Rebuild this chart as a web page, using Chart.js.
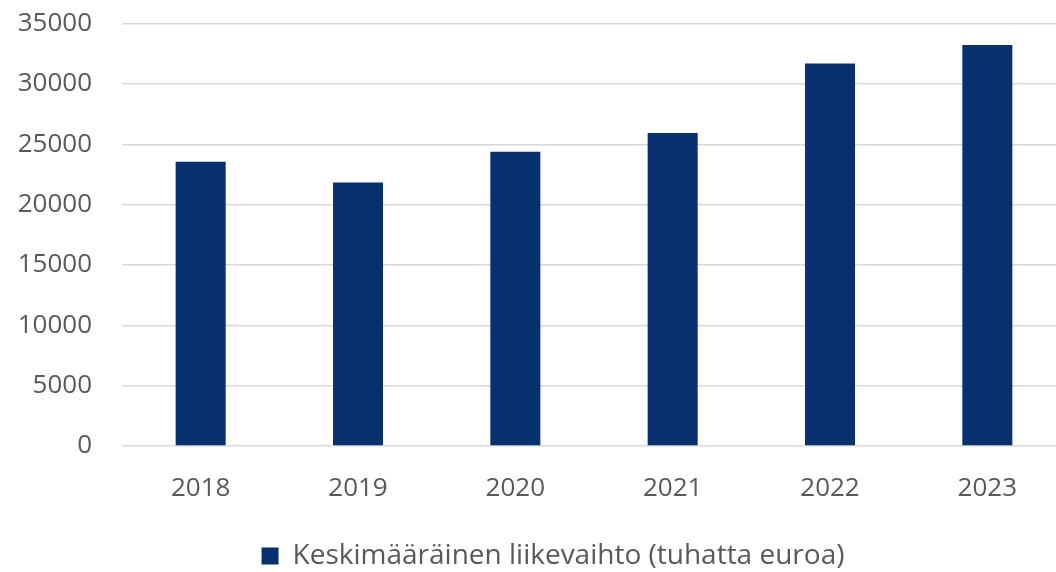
<!DOCTYPE html>
<html>
<head>
<meta charset="utf-8">
<script src="https://cdn.jsdelivr.net/npm/chart.js@4"></script>
<style>
  html, body { margin: 0; padding: 0; background: #fff; overflow: hidden; }
  #wrap { width: 1066px; height: 572px; position: relative; }
</style>
</head>
<body>
<div id="wrap"><canvas id="c"></canvas></div>
<script>
const categories = ["2018", "2019", "2020", "2021", "2022", "2023"];
const seriesName = "Keskimääräinen liikevaihto (tuhatta euroa)";
const values = [23550, 21830, 24380, 25930, 31700, 33230];
const yMin = 0, yMax = 35000, yStep = 5000;

const textColor = "#595959";
const fontFamily = "'Open Sans', 'Liberation Sans', sans-serif";

const legendShift = {
  id: "legendShift",
  afterLayout(chart) {
    if (chart.legend) { chart.legend.left += 20; chart.legend.right += 20; }
  }
};

new Chart(document.getElementById("c"), {
  type: "bar",
  data: {
    labels: categories,
    datasets: [{
      label: seriesName,
      data: values,
      backgroundColor: "#06316E",
      borderWidth: 0,
      categoryPercentage: 1,
      barPercentage: 0.318
    }]
  },
  plugins: [legendShift],
  options: {
    responsive: true,
    maintainAspectRatio: false,
    animation: false,
    layout: { padding: { top: 0, right: 0, bottom: -8, left: 0 } },
    plugins: {
      tooltip: { enabled: false },
      legend: {
        position: "bottom",
        labels: {
          boxWidth: 17, boxHeight: 17,
          color: textColor,
          font: { family: fontFamily, size: 28 },
          padding: 3
        }
      }
    },
    scales: {
      x: {
        grid: { display: false },
        border: { display: false },
        ticks: { color: textColor, font: { family: fontFamily, size: 26 }, padding: 19 },
        afterFit: (s) => { s.height = 93; }
      },
      y: {
        min: yMin, max: yMax,
        ticks: {
          stepSize: yStep, color: textColor,
          font: { family: fontFamily, size: 26 }, padding: 8,
          callback: (v) => String(v)
        },
        grid: { color: "#d9d9d9", lineWidth: 1.5, drawTicks: true, tickLength: 22, tickColor: "rgba(0,0,0,0)" },
        border: { display: false },
        afterFit: (s) => { s.width = 122; }
      }
    }
  }
});
</script>
</body>
</html>
